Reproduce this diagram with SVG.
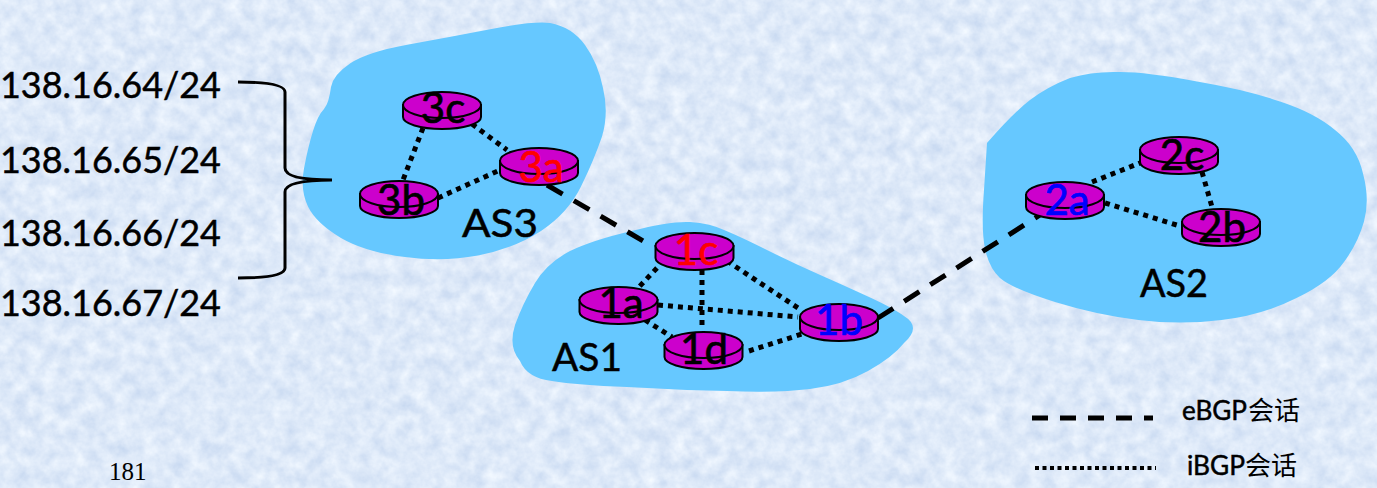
<svg xmlns="http://www.w3.org/2000/svg" width="1377" height="488" viewBox="0 0 1377 488">
<style>
text{font-family:"Lato","Liberation Sans","Noto Sans CJK SC",sans-serif;fill:#000}
.as{fill:#66c8ff}
.r{fill:#cc00cc;stroke:#000;stroke-width:2}
.n{font-size:42px;text-anchor:middle;stroke:#000;stroke-width:.7}
.red{fill:#ff0000;stroke:#ff0000}.blue{fill:#0000ff;stroke:#0000ff}
.p{font-size:37px;stroke:#000;stroke-width:.5}
.a{font-size:38px;stroke:#000;stroke-width:.5}
.lg{font-size:26px}
.lat{stroke:#000;stroke-width:.5}
.e{fill:none;stroke:#000;stroke-width:5;stroke-dasharray:18 13}
.i{fill:none;stroke:#000;stroke-width:5;stroke-dasharray:5 5}
</style>
<defs>
<filter id="tex" x="0" y="0" width="100%" height="100%" color-interpolation-filters="sRGB">
<feTurbulence type="fractalNoise" baseFrequency="0.07" numOctaves="4" seed="7"/>
<feColorMatrix type="matrix" values="0.2 0 0 0 0.77  0.15 0 0 0 0.84  0.07 0 0 0 0.94  0 0 0 0 1"/>
</filter>
<g id="router">
<path class="r" d="M-39,13V25A39,12 0 0 0 39,25V13Z"/>
<ellipse class="r" cx="0" cy="13" rx="39" ry="13"/>
</g>
</defs>
<rect id="background" width="1377" height="488" filter="url(#tex)"/>
<g id="regions">
<path id="region-as3" class="as" d="M331,87Q333,75 350,63.500Q367,52 408.500,44.500Q450,37 491.500,29Q533,21 550,23Q572,27 585,45Q598,63 603,88Q609,113 602,136.500Q594,160 581,186.500Q568,213 541,231Q513,249 478,255.500Q443,262 405,257Q365,252 341,238Q316,223 308,206.500Q300,190 304,168.500Q308,147 313,131Q318,115 324,109Q329,103 331,87Z"/>
<path id="region-as1" class="as" d="M520,361Q508,347 515,325Q523,303 535,283Q547,263 570,251Q593,240 631.500,231Q670,221 690,222Q710,223 726.500,231Q743,238 768,250.500Q793,263 818,274Q843,285 868,296.500Q893,308 904,316Q922,327 904,343Q893,357 868,371Q843,385 810,389Q777,393 727,391Q677,390 627,387Q577,385 552,381Q527,378 520,361Z"/>
<path id="region-as2" class="as" d="M987,143Q1013,113 1030,100Q1047,87 1070,78Q1093,71 1120,72Q1147,72 1197,81.500Q1247,90 1280,101.500Q1315,113 1335,130Q1357,147 1363,173.500Q1370,200 1364,221.500Q1358,243 1344,262Q1330,282 1296.500,298Q1263,315 1221.500,320Q1180,325 1138.500,320Q1097,315 1055,302Q1013,289 1000,278Q989,268 985,248.500Q981,230 984,190Z"/>
</g>
<g id="connectors">
<path class="e" d="M547,185L645,242"/>
<path class="e" d="M878,318L1040,215"/>
<path class="i" d="M423,128L403,180"/>
<path class="i" d="M472,124L507,150"/>
<path class="i" d="M438,198L500,170"/>
<path class="i" d="M657,268L638,288"/>
<path class="i" d="M702,270V330"/>
<path class="i" d="M727,261L798,308"/>
<path class="i" d="M658,305L798,317"/>
<path class="i" d="M645,320L672,337"/>
<path class="i" d="M749,351L802,334"/>
<path class="i" d="M1092,182L1140,163"/>
<path class="i" d="M1105,203L1180,226"/>
<path class="i" d="M1202,172L1212,207"/>
<path id="brace" d="M238,82Q285,82 285,92V168Q285,180 332,180Q285,180 285,192V268Q285,278 238,278" fill="none" stroke="#000" stroke-width="3"/>
</g>
<g id="prefixes">
<text class="p" x="0" y="98" textLength="221" lengthAdjust="spacingAndGlyphs">138.16.64/24</text>
<text class="p" x="0" y="172.500" textLength="221" lengthAdjust="spacingAndGlyphs">138.16.65/24</text>
<text class="p" x="0" y="245.500" textLength="221" lengthAdjust="spacingAndGlyphs">138.16.66/24</text>
<text class="p" x="0" y="315.500" textLength="221" lengthAdjust="spacingAndGlyphs">138.16.67/24</text>
</g>
<g id="node-3c"><use href="#router" x="442" y="92"/><text class="n" x="443" y="123">3c</text></g>
<g id="node-3a"><use href="#router" x="539" y="148"/><text class="n red" x="541" y="182">3a</text></g>
<g id="node-3b"><use href="#router" x="399" y="181"/><text class="n" x="401" y="215">3b</text></g>
<g id="node-1c"><use href="#router" x="694.500" y="233"/><text class="n red" x="696" y="265">1c</text></g>
<g id="node-1a"><use href="#router" x="618.500" y="287"/><text class="n" x="621" y="318">1a</text></g>
<g id="node-1b"><use href="#router" x="839" y="304"/><text class="n blue" x="839" y="335">1b</text></g>
<g id="node-1d"><use href="#router" x="703.500" y="332"/><text class="n" x="704" y="364">1d</text></g>
<g id="node-2c"><use href="#router" x="1179" y="137"/><text class="n" x="1182" y="170">2c</text></g>
<g id="node-2a"><use href="#router" x="1065" y="182"/><text class="n blue" x="1067" y="215">2a</text></g>
<g id="node-2b"><use href="#router" x="1221" y="209"/><text class="n" x="1222" y="242">2b</text></g>
<g id="as-labels">
<text class="a" x="462" y="237" textLength="76" lengthAdjust="spacingAndGlyphs">AS3</text>
<text class="a" x="552" y="371" textLength="70" lengthAdjust="spacingAndGlyphs">AS1</text>
<text class="a" x="1140" y="297" textLength="68" lengthAdjust="spacingAndGlyphs">AS2</text>
</g>
<g id="legend">
<path class="e" style="stroke-dasharray:16 12" d="M1032,418H1153"/>
<path class="i" style="stroke-width:4;stroke-dasharray:4 3.500" d="M1035,468H1156"/>
<text class="lg" y="420"><tspan class="lat" x="1182" textLength="65" lengthAdjust="spacingAndGlyphs">eBGP</tspan><tspan x="1248" font-family="Noto Sans CJK SC">会话</tspan></text>
<text class="lg" y="475"><tspan class="lat" x="1187" textLength="58" lengthAdjust="spacingAndGlyphs">iBGP</tspan><tspan x="1245" font-family="Noto Sans CJK SC">会话</tspan></text>
</g>
<text id="page-number" x="109" y="480" style="font-family:'Liberation Serif',serif;font-size:25px">181</text>
</svg>
